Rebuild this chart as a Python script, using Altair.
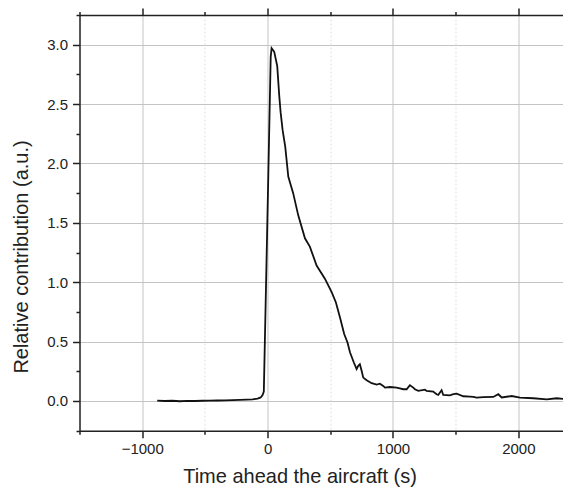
import altair as alt
import pandas as pd

# ---- data ----
time_s = [-880, -820, -760, -700, -640, -580, -520, -460, -400, -340, -280, -220,
          -167, -120, -80, -55, -40, -30, 5, 25, 32, 53, 77, 93, 104, 120, 141,
          165, 204, 244, 298, 337, 391, 457, 511, 545, 577, 611, 638, 657, 688,
          710, 723, 736, 750, 763, 790, 830, 870, 896, 922, 936, 976, 1029, 1055,
          1082, 1109, 1135, 1162, 1175, 1202, 1255, 1268, 1321, 1348, 1361, 1388,
          1401, 1454, 1482, 1508, 1561, 1614, 1641, 1667, 1720, 1800, 1840, 1867,
          1947, 2013, 2119, 2226, 2306, 2385, 2406, 2420]
contribution = [0.003, 0.0, 0.002, -0.002, 0.001, 0.0, 0.002, 0.003, 0.004, 0.006,
                0.008, 0.010, 0.012, 0.014, 0.020, 0.030, 0.050, 0.080, 1.86, 2.90,
                2.97, 2.94, 2.82, 2.57, 2.43, 2.28, 2.14, 1.89, 1.75, 1.565, 1.37,
                1.30, 1.14, 1.03, 0.916, 0.83, 0.705, 0.564, 0.49, 0.41, 0.324,
                0.268, 0.296, 0.31, 0.254, 0.197, 0.175, 0.15, 0.138, 0.146, 0.127,
                0.113, 0.118, 0.113, 0.107, 0.099, 0.099, 0.133, 0.113, 0.099,
                0.085, 0.096, 0.085, 0.079, 0.057, 0.051, 0.091, 0.051, 0.048,
                0.057, 0.062, 0.040, 0.036, 0.034, 0.028, 0.032, 0.034, 0.057,
                0.030, 0.042, 0.028, 0.023, 0.014, 0.023, 0.014, 0.057, 0.062]

x_major = [-1000, 0, 1000, 2000]
x_minor = [-1500, -500, 500, 1500]
y_major = [0.0, 0.5, 1.0, 1.5, 2.0, 2.5, 3.0]
y_minor = [-0.25, 0.25, 0.75, 1.25, 1.75, 2.25, 2.75, 3.25]
x_domain = [-1500, 2356]
y_domain = [-0.25, 3.25]

df = pd.DataFrame({"t": time_s, "c": contribution})

FONT = "Liberation Sans"
INK = "#222222"

xs = alt.Scale(domain=x_domain, nice=False, zero=False)
ys = alt.Scale(domain=y_domain, nice=False, zero=False)

base = alt.Chart(df)

minor = base.mark_line(opacity=0).encode(
    x=alt.X("t:Q", scale=xs, axis=alt.Axis(
        orient="bottom", values=x_minor, labels=False, title=None, domain=False,
        tickSize=3.5, tickWidth=1.5, tickColor=INK,
        grid=True, gridColor="#e0e0e0", gridDash=[2, 2], gridWidth=1)),
    y=alt.Y("c:Q", scale=ys, axis=alt.Axis(
        orient="left", values=y_minor, labels=False, title=None, domain=False,
        tickSize=3.5, tickWidth=1.5, tickColor=INK, grid=False)),
)

top_major = base.mark_line(opacity=0).encode(
    x=alt.X("t:Q", scale=xs, axis=alt.Axis(
        orient="top", values=x_major, labels=False, title=None,
        domain=True, domainColor=INK, domainWidth=1.5,
        tickSize=7, tickWidth=1.5, tickColor=INK, grid=False)),
    y=alt.Y("c:Q", scale=ys, axis=None),
)

top_minor = base.mark_line(opacity=0).encode(
    x=alt.X("t:Q", scale=xs, axis=alt.Axis(
        orient="top", values=x_minor, labels=False, title=None, domain=False,
        tickSize=3.5, tickWidth=1.5, tickColor=INK, grid=False)),
    y=alt.Y("c:Q", scale=ys, axis=None),
)

main = base.mark_line(color="#111111", strokeWidth=1.8, clip=True).encode(
    x=alt.X("t:Q", scale=xs, axis=alt.Axis(
        orient="bottom", values=x_major, format="d",
        title="Time ahead the aircraft (s)",
        titleX=220, titleY=36, titleAlign="center", titleBaseline="top",
        domain=True, domainColor=INK, domainWidth=1.5,
        tickSize=7, tickWidth=1.5, tickColor=INK, labelPadding=4,
        grid=True, gridColor="#c4c4c4", gridWidth=1)),
    y=alt.Y("c:Q", scale=ys, axis=alt.Axis(
        orient="left", values=y_major, format=".1f",
        title="Relative contribution (a.u.)",
        titleX=-48.5, titleY=241.5, titleAngle=-90, titleAlign="center",
        titleBaseline="bottom",
        domain=True, domainColor=INK, domainWidth=1.5,
        tickSize=7, tickWidth=1.5, tickColor=INK, labelPadding=5,
        grid=True, gridColor="#c4c4c4", gridWidth=1)),
)

chart = alt.layer(minor, top_major, top_minor, main).resolve_axis(
    x="independent", y="independent"
).properties(
    width=483.5, height=415.7,
    autosize=alt.AutoSizeParams(type="none"),
    padding={"left": 71.5, "top": 7, "right": 0, "bottom": 56},
    background="white",
).configure_axis(
    labelFont=FONT, labelFontSize=15, labelColor=INK,
    titleFont=FONT, titleFontSize=20, titleColor=INK, titleFontWeight="normal",
).configure_view(stroke=None)

chart.save("out.html", embed_options={"renderer": "svg", "actions": False})
